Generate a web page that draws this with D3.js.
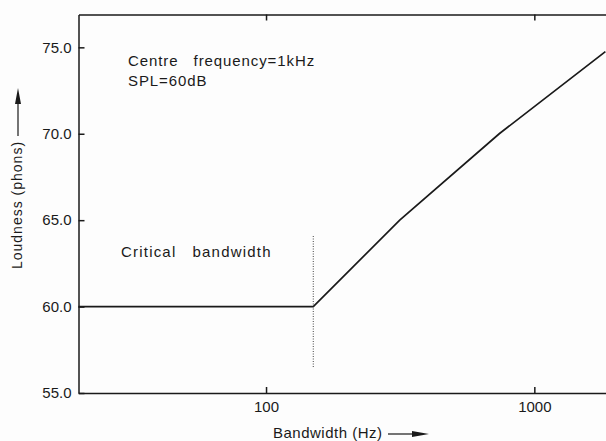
<!DOCTYPE html>
<html>
<head>
<meta charset="utf-8">
<script src="https://cdn.jsdelivr.net/npm/d3@7"></script>
<style>
  body { margin: 0; background: #fdfdfd; overflow: hidden; }
  svg { display: block; font-family: "Liberation Sans", Arial, sans-serif; }
</style>
</head>
<body>
<div id="chart"></div>
<script>
// loudness vs bandwidth of a noise band
var bandwidths = [20, 150, 315, 740, 1840];
var loudness = [60, 60, 65, 70, 74.75];
var criticalBand = 150;
var yTicks = [55, 60, 65, 70, 75];
var xTicks = [100, 1000];

var width = 606, height = 441;
var margin = {left: 78.5, top: 14.5, bottom: 48};

var svg = d3.select("#chart")
    .append("svg")
    .attr("width", width)
    .attr("height", height);

// log axis, one decade ~268px; right edge of the plot is cut off by the picture
var x = d3.scaleLog()
    .domain([20, 2000])
    .range([margin.left, margin.left + 2 * 268.3]);

var y = d3.scaleLinear()
    .domain([55, 76.9])
    .range([height - margin.bottom, margin.top]);

var ink = "#1a1a1a";

var gx = svg.append("g")
    .attr("transform", "translate(0," + y(55) + ")")
    .call(d3.axisBottom(x).tickValues(xTicks).tickSize(-6).tickSizeOuter(0)
        .tickPadding(8).tickFormat(d3.format("d")));

var gt = svg.append("g")
    .attr("transform", "translate(0," + y(76.9) + ")")
    .call(d3.axisTop(x).tickValues(xTicks).tickSize(-6).tickSizeOuter(0)
        .tickFormat(""));

var gy = svg.append("g")
    .attr("transform", "translate(" + x(20) + ",0)")
    .call(d3.axisLeft(y).tickValues(yTicks).tickSize(-6).tickSizeOuter(0)
        .tickPadding(7).tickFormat(d3.format(".1f")));

[gx, gt, gy].forEach(function (g) {
    g.selectAll("path, line").attr("stroke", ink).attr("stroke-width", 1.5);
    g.selectAll("text")
        .attr("fill", ink)
        .style("font-size", "15px")
        .style("font-family", "'Liberation Sans', Arial, sans-serif");
});

// critical bandwidth marker
svg.append("line")
    .attr("x1", x(criticalBand)).attr("x2", x(criticalBand))
    .attr("y1", 236).attr("y2", 368)
    .attr("stroke", "#444")
    .attr("stroke-width", 1)
    .attr("stroke-dasharray", "1,1.5");

var pts = bandwidths.map(function (b, i) { return [b, loudness[i]]; });

svg.append("path")
    .datum(pts)
    .attr("fill", "none")
    .attr("stroke", ink)
    .attr("stroke-width", 1.7)
    .attr("d", d3.line()
        .x(function (d) { return x(d[0]); })
        .y(function (d) { return y(d[1]); }));

// annotations
function label(txt, px, py, size, ls) {
    return svg.append("text")
        .attr("x", px).attr("y", py)
        .attr("fill", ink)
        .style("font-size", size + "px")
        .style("letter-spacing", ls + "px")
        .attr("xml:space", "preserve")
        .text(txt);
}
label("Centre   frequency=1kHz", 128, 66, 15, 0.9);
label("SPL=60dB", 128, 86, 15, 0.9);
label("Critical   bandwidth", 121, 257, 15, 1.2);
label("Bandwidth (Hz)", 273, 438, 15, 0.5);

svg.append("text")
    .attr("transform", "translate(22,205) rotate(-90)")
    .attr("text-anchor", "middle")
    .attr("fill", ink)
    .style("font-size", "14px")
    .style("letter-spacing", "1px")
    .text("Loudness (phons)");

// hand-drawn style arrows next to the axis titles
svg.append("line")
    .attr("x1", 388).attr("x2", 416).attr("y1", 434).attr("y2", 434)
    .attr("stroke", ink).attr("stroke-width", 1.2);
svg.append("path")
    .attr("d", "M412,431 L429,434 L412,437 Z")
    .attr("fill", ink);

svg.append("line")
    .attr("x1", 18).attr("x2", 18).attr("y1", 136).attr("y2", 100)
    .attr("stroke", ink).attr("stroke-width", 1.2);
svg.append("path")
    .attr("d", "M15,104 L18,88 L21,104 Z")
    .attr("fill", ink);
</script>
</body>
</html>
